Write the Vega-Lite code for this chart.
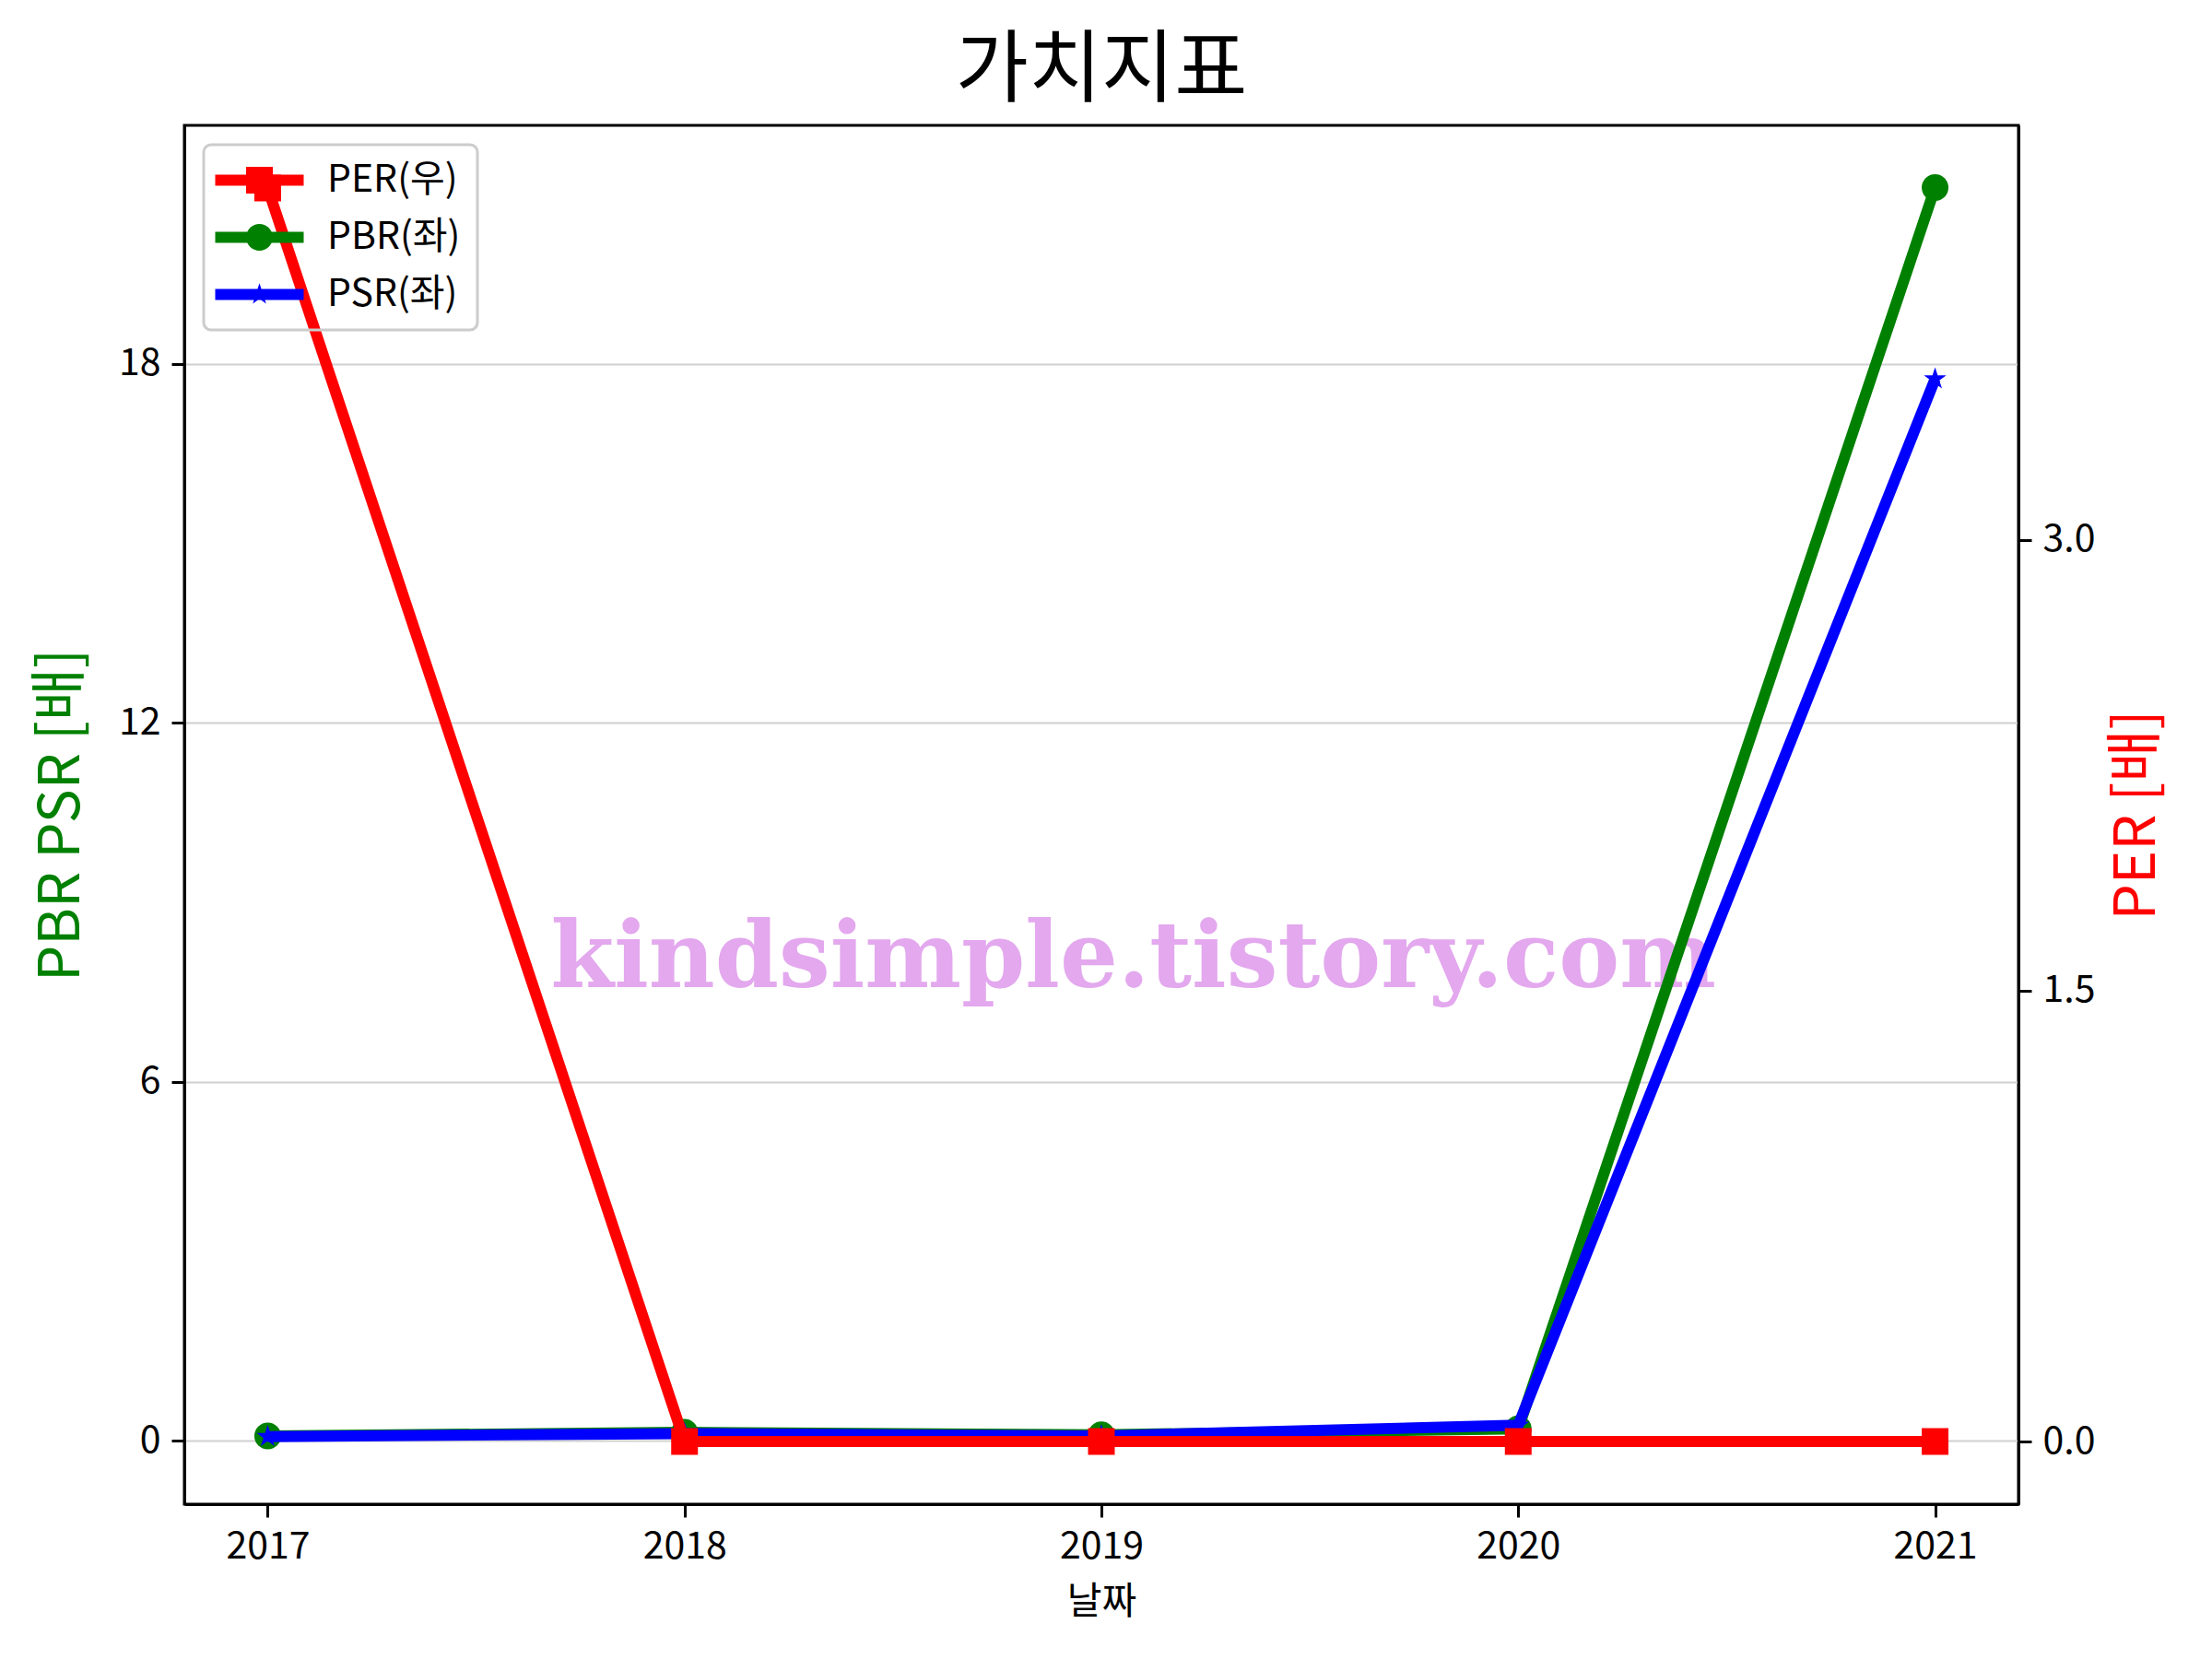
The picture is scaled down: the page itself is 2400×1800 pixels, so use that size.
{
  "$schema": "https://vega.github.io/schema/vega-lite/v6.json",
  "width": 1990,
  "height": 1496,
  "autosize": {"type": "none"},
  "padding": {"left": 200, "top": 136, "right": 210, "bottom": 168},
  "background": "white",
  "config": {
    "view": {"stroke": "black", "strokeWidth": 3},
    "axis": {
      "labelFont": "Noto Sans CJK KR",
      "labelFontSize": 41,
      "labelColor": "black",
      "tickColor": "black",
      "tickSize": 14,
      "tickWidth": 3,
      "domainColor": "black",
      "domainWidth": 3,
      "labelPadding": 12,
      "titleFont": "Noto Sans CJK KR",
      "titleFontWeight": "normal"
    }
  },
  "title": {
    "text": "가치지표",
    "font": "Noto Sans CJK KR",
    "fontSize": 86,
    "fontWeight": "normal",
    "color": "black",
    "anchor": "middle",
    "baseline": "bottom",
    "offset": 14,
    "dy": 86
  },
  "data": {
    "values": [
      {"year": 2017, "series": "PER(우)", "value": 4.17},
      {"year": 2018, "series": "PER(우)", "value": 0},
      {"year": 2019, "series": "PER(우)", "value": 0},
      {"year": 2020, "series": "PER(우)", "value": 0},
      {"year": 2021, "series": "PER(우)", "value": 0},
      {"year": 2017, "series": "PBR(좌)", "value": 0.08},
      {"year": 2018, "series": "PBR(좌)", "value": 0.14},
      {"year": 2019, "series": "PBR(좌)", "value": 0.10},
      {"year": 2020, "series": "PBR(좌)", "value": 0.20},
      {"year": 2021, "series": "PBR(좌)", "value": 20.95},
      {"year": 2017, "series": "PSR(좌)", "value": 0.07},
      {"year": 2018, "series": "PSR(좌)", "value": 0.12},
      {"year": 2019, "series": "PSR(좌)", "value": 0.08},
      {"year": 2020, "series": "PSR(좌)", "value": 0.26},
      {"year": 2021, "series": "PSR(좌)", "value": 17.75}
    ]
  },
  "encoding": {
    "x": {
      "field": "year",
      "type": "quantitative",
      "scale": {"domain": [2016.8, 2021.2], "nice": false, "zero": false},
      "axis": {
        "values": [2017, 2018, 2019, 2020, 2021],
        "format": "d",
        "title": "날짜",
        "titleFontSize": 41,
        "titleColor": "black",
        "titlePadding": 20,
        "grid": false
      }
    }
  },
  "layer": [
    {
      "data": {"values": [{"year": 2019.077, "value": 7.58, "label": "kindsimple.tistory.com"}]},
      "mark": {
        "type": "text",
        "font": "DejaVu Serif",
        "fontWeight": "bold",
        "fontSize": 99,
        "color": "#e3a8ee",
        "align": "center",
        "baseline": "alphabetic"
      },
      "encoding": {
        "y": {"field": "value", "type": "quantitative", "scale": {"domain": [-1.06, 21.99], "nice": false, "zero": false}, "axis": null},
        "text": {"field": "label"}
      }
    },
    {
      "encoding": {
        "y": {
          "field": "value",
          "type": "quantitative",
          "scale": {"domain": [-1.06, 21.99], "nice": false, "zero": false},
          "axis": {
            "orient": "left",
            "values": [0, 6, 12, 18],
            "format": "d",
            "title": "PBR PSR [배]",
            "titleFontSize": 62,
            "titleColor": "#008000",
            "titlePadding": 30,
            "grid": true,
            "gridColor": "#d0d0d0",
            "gridWidth": 2
          }
        }
      },
      "layer": [
        {
          "transform": [{"filter": "datum.series === 'PBR(좌)'"}],
          "mark": {"type": "line", "strokeWidth": 12},
          "encoding": {
            "color": {
              "field": "series",
              "type": "nominal",
              "scale": {"domain": ["PER(우)", "PBR(좌)", "PSR(좌)"], "range": ["#ff0000", "#008000", "#0000ff"]},
              "legend": {
                "title": null,
                "orient": "top-left",
                "offset": 21,
                "padding": 18,
                "strokeColor": "#cccccc",
                "fillColor": "rgba(255,255,255,0)",
                "cornerRadius": 8,
                "labelFont": "Noto Sans CJK KR",
                "labelFontSize": 41,
                "labelColor": "black",
                "symbolSize": 841,
                "symbolStrokeWidth": 0,
                "symbolOffset": 22,
                "labelOffset": 53,
                "rowPadding": 20,
                "encode": {
                  "legend": {"update": {"strokeWidth": {"value": 3}}},
                  "symbols": {
                    "update": {
                      "shape": {"signal": "datum.value === 'PER(우)' ? 'M-3.31,-0.41H3.31V0.41H-3.31Z M-1,-1H1V1H-1Z' : datum.value === 'PBR(좌)' ? 'M-3.31,-0.41H3.31V0.41H-3.31Z M1,0A1,1 0 1,1 -1,0A1,1 0 1,1 1,0Z' : 'M-3.31,-0.41H3.31V0.41H-3.31Z M0,-0.85L0.191,-0.263L0.808,-0.263L0.309,0.1L0.5,0.688L0,0.325L-0.5,0.688L-0.309,0.1L-0.808,-0.263L-0.191,-0.263Z'"},
                      "fill": {"signal": "datum.value === 'PER(우)' ? '#ff0000' : datum.value === 'PBR(좌)' ? '#008000' : '#0000ff'"},
                      "stroke": {"value": "transparent"},
                      "strokeWidth": {"value": 0},
                      "opacity": {"value": 1}
                    }
                  }
                }
              }
            }
          }
        },
        {
          "transform": [{"filter": "datum.series === 'PBR(좌)'"}],
          "mark": {"type": "point", "shape": "circle", "filled": true, "size": 841, "color": "#008000", "opacity": 1}
        },
        {
          "transform": [{"filter": "datum.series === 'PSR(좌)'"}],
          "mark": {"type": "line", "strokeWidth": 12},
          "encoding": {
            "color": {
              "field": "series",
              "type": "nominal",
              "scale": {"domain": ["PER(우)", "PBR(좌)", "PSR(좌)"], "range": ["#ff0000", "#008000", "#0000ff"]}
            }
          }
        },
        {
          "transform": [{"filter": "datum.series === 'PSR(좌)'"}],
          "mark": {"type": "point", "shape": "M0,-1L0.2245,-0.309L0.951,-0.309L0.363,0.118L0.588,0.809L0,0.382L-0.588,0.809L-0.363,0.118L-0.951,-0.309L-0.2245,-0.309Z", "filled": true, "size": 650, "color": "#0000ff", "opacity": 1}
        }
      ]
    },
    {
      "encoding": {
        "y": {
          "field": "value",
          "type": "quantitative",
          "scale": {"domain": [-0.2085, 4.3785], "nice": false, "zero": false},
          "axis": {
            "orient": "right",
            "values": [0, 1.5, 3],
            "format": ".1f",
            "title": "PER [배]",
            "titleFontSize": 62,
            "titleColor": "#ff0000",
            "titleAngle": 270,
            "titlePadding": 78,
            "grid": false
          }
        }
      },
      "layer": [
        {
          "transform": [{"filter": "datum.series === 'PER(우)'"}],
          "mark": {"type": "line", "strokeWidth": 12},
          "encoding": {
            "color": {
              "field": "series",
              "type": "nominal",
              "scale": {"domain": ["PER(우)", "PBR(좌)", "PSR(좌)"], "range": ["#ff0000", "#008000", "#0000ff"]}
            }
          }
        },
        {
          "transform": [{"filter": "datum.series === 'PER(우)'"}],
          "mark": {"type": "point", "shape": "square", "filled": true, "size": 841, "color": "#ff0000", "opacity": 1}
        }
      ]
    }
  ],
  "resolve": {"scale": {"y": "independent"}}
}
